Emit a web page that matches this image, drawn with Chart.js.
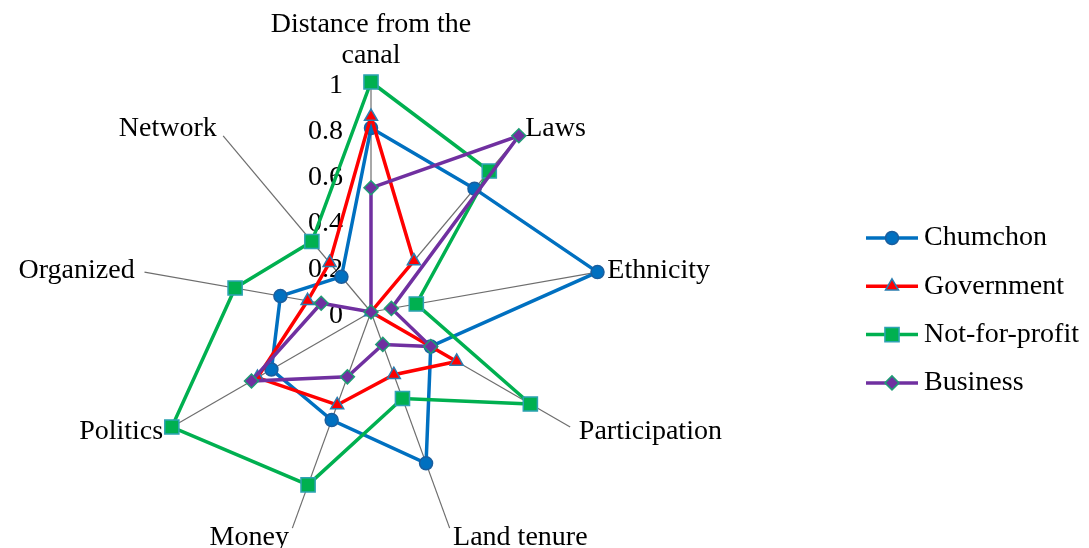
<!DOCTYPE html>
<html>
<head>
<meta charset="utf-8">
<title>Radar chart</title>
<script src="https://cdn.jsdelivr.net/npm/chart.js@4.4.1/dist/chart.umd.min.js"></script>
<style>
  html, body { margin: 0; padding: 0; background: #ffffff; }
  canvas { display: block; }
</style>
</head>
<body>
<canvas id="radar" width="1089" height="548"></canvas>
<script>
// Axis categories (multi-line entries are arrays of lines)
const categories = [
  ['Distance from the', 'canal'],
  ['Laws'],
  ['Ethnicity'],
  ['Participation'],
  ['Land tenure'],
  ['Money'],
  ['Politics'],
  ['Organized'],
  ['Network']
];

// Radial scale ticks
const tickValues = [0, 0.2, 0.4, 0.6, 0.8, 1];
const tickLabels = ['0', '0.2', '0.4', '0.6', '0.8', '1'];

// Series
const seriesNames = ['Chumchon', 'Government', 'Not-for-profit', 'Business'];
const chumchon     = [0.80, 0.70, 1.00, 0.30, 0.70, 0.50, 0.50, 0.40, 0.20];
const government   = [0.85, 0.29, 0.00, 0.43, 0.29, 0.43, 0.57, 0.28, 0.28];
const notForProfit = [1.00, 0.80, 0.20, 0.80, 0.40, 0.80, 1.00, 0.60, 0.40];
const business     = [0.54, 1.00, 0.09, 0.30, 0.15, 0.30, 0.60, 0.22, 0.00];

const seriesValues = [chumchon, government, notForProfit, business];

// Visual style per series
const styles = [
  { line: '#0070C0', fill: '#0070C0', border: '#1A5E9E', pointStyle: 'circle',   radius: 6.5 },
  { line: '#FF0000', fill: '#FF0000', border: '#2A7DB0', pointStyle: 'triangle', radius: 7.5 },
  { line: '#00B050', fill: '#00B050', border: '#2EA2B4', pointStyle: 'rect',     radius: 10 },
  { line: '#7030A0', fill: '#7030A0', border: '#1E9C74', pointStyle: 'rectRot',  radius: 7 }
];

const FONT = '28px "Liberation Serif", "Times New Roman", serif';

const datasets = seriesNames.map((name, i) => ({
  label: name,
  data: seriesValues[i],
  order: seriesNames.length - i,
  fill: false,
  tension: 0,
  borderColor: styles[i].line,
  borderWidth: 3.5,
  pointStyle: styles[i].pointStyle,
  pointRadius: styles[i].radius,
  pointHoverRadius: styles[i].radius,
  pointBackgroundColor: styles[i].fill,
  pointBorderColor: styles[i].border,
  pointBorderWidth: 1.5
}));

function drawMarker(ctx, style, x, y) {
  ctx.fillStyle = style.fill;
  ctx.strokeStyle = style.border;
  ctx.lineWidth = 1.5;
  if (Chart.helpers && Chart.helpers.drawPoint) {
    Chart.helpers.drawPoint(ctx, { pointStyle: style.pointStyle, radius: style.radius, rotation: 0, borderWidth: 1.5 }, x, y);
  } else {
    ctx.beginPath();
    ctx.arc(x, y, style.radius, 0, Math.PI * 2);
    ctx.fill();
    ctx.stroke();
  }
}

// Tick labels, category labels and the legend
const radarText = {
  id: 'radarText',
  beforeDatasetsDraw(chart) {
    const s = chart.scales.r;
    const ctx = chart.ctx;
    ctx.save();
    ctx.font = FONT;
    ctx.fillStyle = '#000000';

    // value ticks, to the left of the first spoke
    ctx.textAlign = 'right';
    ctx.textBaseline = 'middle';
    tickValues.forEach((v, i) => {
      const y = s.yCenter - s.getDistanceFromCenterForValue(v);
      ctx.fillText(tickLabels[i], s.xCenter - 28, y + 4);
    });

    // category labels just outside each spoke
    categories.forEach((lines, i) => {
      const p = s.getPointPosition(i, s.drawingArea + 10);
      const dx = p.x - s.xCenter;
      if (Math.abs(dx) < 1) {
        ctx.textAlign = 'center';
        ctx.textBaseline = 'alphabetic';
        lines.forEach((t, k) => {
          ctx.fillText(t, p.x, p.y - 9 - (lines.length - 1 - k) * 31);
        });
      } else {
        ctx.textAlign = dx > 0 ? 'left' : 'right';
        ctx.textBaseline = 'middle';
        lines.forEach((t, k) => ctx.fillText(t, p.x, p.y + k * 31));
      }
    });
    ctx.restore();
  },
  afterDraw(chart) {
    const ctx = chart.ctx;
    ctx.save();
    const x0 = 866, x1 = 918, y0 = 238, step = 48.3;
    seriesNames.forEach((name, i) => {
      const y = y0 + i * step;
      ctx.beginPath();
      ctx.strokeStyle = styles[i].line;
      ctx.lineWidth = 3.5;
      ctx.moveTo(x0, y);
      ctx.lineTo(x1, y);
      ctx.stroke();
      drawMarker(ctx, styles[i], (x0 + x1) / 2, y);
      ctx.font = FONT;
      ctx.fillStyle = '#000000';
      ctx.textAlign = 'left';
      ctx.textBaseline = 'middle';
      ctx.fillText(name, 924, y);
    });
    ctx.restore();
  }
};

new Chart(document.getElementById('radar'), {
  type: 'radar',
  data: { labels: categories, datasets },
  options: {
    responsive: false,
    animation: false,
    devicePixelRatio: 1,
    layout: { padding: { left: 141, right: 488, top: 82, bottom: 6 } },
    plugins: {
      legend: { display: false },
      tooltip: { enabled: false }
    },
    elements: { line: { tension: 0 } },
    scales: {
      r: {
        min: 0,
        max: 1,
        ticks: { display: false, stepSize: 0.2 },
        grid: { display: false },
        angleLines: { display: true, color: '#6E6E6E', lineWidth: 1.2 },
        pointLabels: { display: false }
      }
    }
  },
  plugins: [radarText]
});
</script>
</body>
</html>
